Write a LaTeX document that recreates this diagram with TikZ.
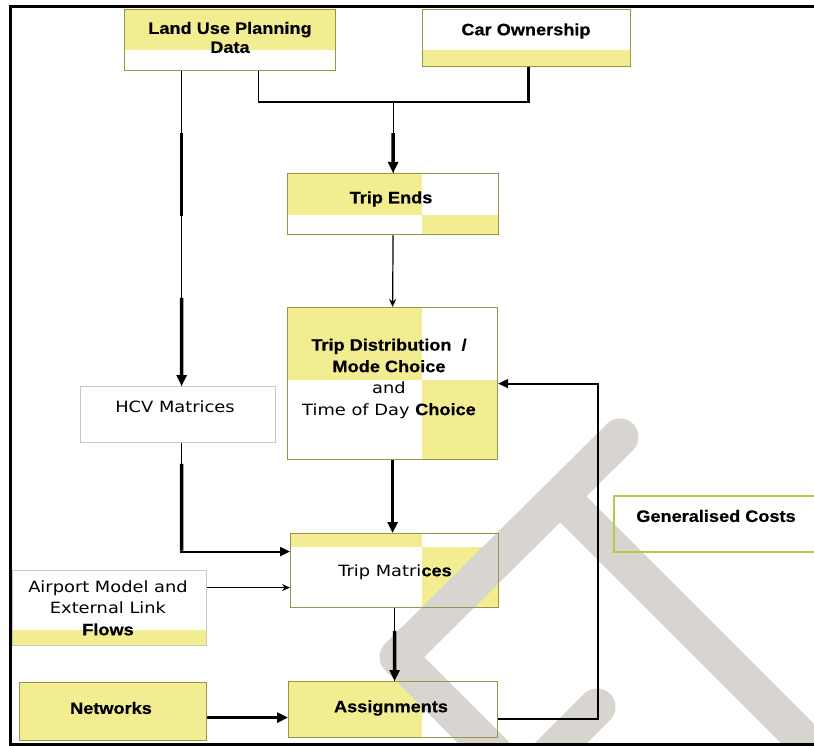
\documentclass[tikz,border=0pt]{standalone}
\usepackage{fontspec}
\setmainfont{Liberation Sans}
\newfontfamily\boldlab[FakeStretch=1.1, BoldFeatures={FakeBold=0.5}]{Liberation Sans}
\newfontfamily\plainlab[FakeStretch=1.15]{DejaVu Sans}
\usetikzlibrary{arrows.meta,calc}
\pgfdeclarelayer{fills}
\pgfdeclarelayer{mark}
\pgfsetlayers{fills,mark,main}

\definecolor{boxyellow}{RGB}{243,237,145}
\definecolor{boxline}{RGB}{150,150,70}
\definecolor{softline}{RGB}{200,200,192}
\definecolor{genline}{RGB}{185,200,70}
\definecolor{markgray}{RGB}{216,213,209}

\newcommand{\bb}[1]{{\boldlab\bfseries\fontsize{16.5}{19}\selectfont #1}}

\tikzset{
  box/.style={draw=boxline, line width=1.2pt, rectangle, inner sep=0pt, anchor=north west},
  lab/.style={font=\boldlab\bfseries\fontsize{16.5}{19}\selectfont, align=center, inner sep=0pt},
  reg/.style={font=\plainlab\fontsize{15.5}{21.5}\selectfont, align=center, inner sep=0pt},
  conn/.style={line width=1.2pt},
  heavy/.style={line width=3.6pt},
  bigtip/.style={-{Triangle[length=11pt,width=10pt]}},
  midtip/.style={-{Triangle[length=10pt,width=9pt]}},
  smalltip/.style={-{Stealth[length=8pt,width=7pt]}},
  markband/.style={draw=markgray, line width=37pt}
}

\begin{document}
\begin{tikzpicture}[x=1pt,y=-1pt]
\useasboundingbox (0,0) rectangle (814,746);

% ---- boxes ----
\node[box, minimum width=211pt, minimum height=61pt] (land) at (124,9) {};
\node[box, minimum width=208pt, minimum height=57pt] (car)  at (422,9) {};
\node[box, minimum width=211pt, minimum height=61pt] (ends) at (287,173) {};
\node[box, minimum width=210pt, minimum height=152pt] (dist) at (287,307) {};
\node[box, draw=softline, minimum width=195pt, minimum height=56pt] (hcv) at (80,386) {};
\node[box, minimum width=208pt, minimum height=74pt] (tmat) at (290,533) {};
\node[box, draw=softline, minimum width=194pt, minimum height=75pt] (air) at (12,570) {};
\node[box, minimum width=187pt, minimum height=58pt] (net)  at (19,682) {};
\node[box, minimum width=209pt, minimum height=56pt] (asg)  at (288,681) {};
\node[box, draw=genline, line width=1.6pt, minimum width=205pt, minimum height=56pt] (gen) at (613,495) {};

% ---- labels ----
\node[lab] (land-t) at (230,37.5) {Land Use Planning\\Data};
\node[lab] (car-t)  at (526,31) {Car Ownership};
\node[lab] (ends-t) at (391,199) {Trip Ends};
\node[reg] (dist-t) at (389,378.5) {\bb{Trip Distribution\ \ /}\\\bb{Mode Choice}\\and\\Time of Day \bb{Choice}};
\node[reg] (hcv-t)  at (175,407) {HCV Matrices};
\node[reg] (tmat-t) at (395,572) {Trip Matri\bb{ces}};
\node[reg] (air-t)  at (108,608) {Airport Model and\\External Link\\\bb{Flows}};
\node[lab] (net-t)  at (111,708) {Networks};
\node[lab] (asg-t)  at (391,708) {Assignments};
\node[lab] (gen-t)  at (716,516) {Generalised Costs};

% ---- two-tone box fills ----
\begin{pgfonlayer}{fills}
  \fill[boxyellow] (124,9) rectangle (335,50);
  \fill[boxyellow] (422,50) rectangle (630,66);
  \fill[boxyellow] (287,173) rectangle (422,215);
  \fill[boxyellow] (422,215) rectangle (498,234);
  \fill[boxyellow] (287,307) rectangle (422,380);
  \fill[boxyellow] (422,380) rectangle (497,459);
  \fill[boxyellow] (290,533) rectangle (422,547);
  \fill[boxyellow] (422,547) rectangle (498,607);
  \fill[boxyellow] (12,630) rectangle (206,645);
  \fill[boxyellow] (19,682) rectangle (206,740);
  \fill[boxyellow] (288,681) rectangle (422,737);
\end{pgfonlayer}

% ---- grey watermark strokes ----
\begin{pgfonlayer}{mark}
  \clip (0,0) rectangle (814,746);
  \draw[markband, line cap=round, line join=round] (620,437) -- (398,657) -- (495,754);
  \draw[markband] (565,501) -- (830,766);
  \draw[markband, line cap=round] (597,707) -- (540,764);
\end{pgfonlayer}

% ---- frame ----
\draw[line width=3pt] (814,7) -- (10.5,7) -- (10.5,744) -- (814,744);

% ---- connectors ----
% land use data -> HCV matrices
\coordinate (lA) at ([xshift=-48.5pt]land.south);
\coordinate (lB) at ([xshift=3.5pt]hcv.north);
\draw[conn] (lA) -- (lB);
\draw[heavy] ($(lA)!0.196!(lB)$) -- ($(lA)!0.459!(lB)$);
\draw[heavy, bigtip] ($(lA)!0.72!(lB)$) -- (lB);

% land use data + car ownership -> trip ends
\coordinate (merge) at (ends.north |- 0,102);
\coordinate (carDown) at ([xshift=2pt]car.south);
\draw[conn] ([xshift=28.5pt]land.south) |- (carDown |- merge);
\draw[line width=2.4pt] (carDown) |- ($(merge)+(30,0)$);
\draw[conn] (merge) -- (ends.north);
\draw[heavy, bigtip] ($(merge)!0.44!(ends.north)$) -- (ends.north);

% trip ends -> distribution
\draw[conn, smalltip] (ends.south) -- (dist.north);

% distribution -> trip matrices
\draw[heavy, bigtip] (dist.south) -- (dist.south |- tmat.north);

% HCV matrices -> trip matrices
\coordinate (hA) at ([xshift=3.5pt]hcv.south);
\coordinate (hB) at ([yshift=19pt]tmat.west);
\coordinate (hC) at (hA |- hB);
\draw[conn] (hA) -- (hC);
\draw[heavy] ($(hA)!0.19!(hC)$) -- ([yshift=1pt]hC);
\draw[line width=2.2pt, midtip] ([xshift=-1.8pt]hC) -- (hB);

% airport model -> trip matrices
\draw[conn, smalltip] ([yshift=20.5pt]air.east) -- ([yshift=-17pt]tmat.west);

% trip matrices -> assignments
\draw[conn] (tmat.south) -- (tmat.south |- asg.north);
\draw[heavy, bigtip] ($(tmat.south)!0.31!(tmat.south |- asg.north)$) -- (tmat.south |- asg.north);

% networks -> assignments
\draw[heavy, bigtip] ([yshift=-6pt]net.east) -- ([yshift=-8pt]asg.west);

% assignments -> distribution (feedback loop)
\coordinate (loopx) at (598,0);
\coordinate (aOut) at ([yshift=-9pt]asg.east);
\draw[line width=2pt, midtip] (aOut) -- (aOut -| loopx) -- (loopx |- dist.east) -- (dist.east);
\end{tikzpicture}
\end{document}
